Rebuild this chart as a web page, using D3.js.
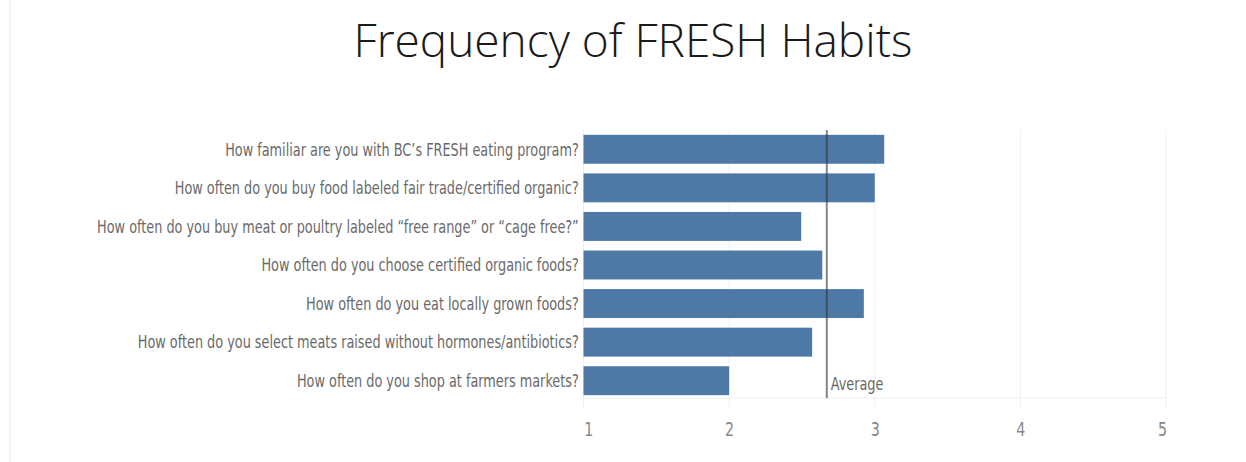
<!DOCTYPE html>
<html>
<head>
	<title> FRESH habits </title>
	<script src="https://d3js.org/d3.v7.min.js"></script>
	<style>
		body { margin: 0; background: white; }
	</style>
</head>
<body>
	<svg id="chart"></svg>
	<script type="text/javascript">

		// values
		const questions = [
			"How familiar are you with BC\u2019s FRESH eating program?",
			"How often do you buy food labeled fair trade/certified organic?",
			"How often do you buy meat or poultry labeled \u201cfree range\u201d or \u201ccage free?\u201d",
			"How often do you choose certified organic foods?",
			"How often do you eat locally grown foods?",
			"How often do you select meats raised without hormones/antibiotics?",
			"How often do you shop at farmers markets?"
		];
		const scores = [3.065, 3.0, 2.495, 2.64, 2.925, 2.57, 2.0];
		const tickValues = [1, 2, 3, 4, 5];

		const w = 1246, h = 462;
		const left_border = 583.5, right_border = 80;
		const top_border = 130, bottom_border = 62;
		const labelFont = "'Liberation Sans Narrow', 'DejaVu Sans Condensed', sans-serif";

		const svg = d3.select("#chart").attr("width", w).attr("height", h);

		const data = questions.map((q, i) => ({ q: q, v: scores[i] }));

		let x_scale = d3.scaleLinear().domain([1, 5]).range([left_border, w - right_border]);
		let y_scale = d3.scaleBand().domain(questions).range([top_border, h - bottom_border])
			.paddingInner(0.25).paddingOuter(0.125);

		// faint frame line on the left
		svg.append("line").attr("x1", 10).attr("x2", 10).attr("y1", 0).attr("y2", h)
			.style("stroke", "#ececec").style("stroke-width", 1);

		// title
		svg.append("text").attr("x", 633).attr("y", 57).attr("text-anchor", "middle")
			.style("font-family", "'Open Sans', 'Noto Sans', sans-serif").style("font-weight", 300)
			.style("font-size", "46px").style("fill", "#1a1a1a")
			.text("Frequency of FRESH Habits");

		// gridlines
		svg.append("g").selectAll("line").data(tickValues).join("line")
			.attr("x1", d => x_scale(d)).attr("x2", d => x_scale(d))
			.attr("y1", top_border).attr("y2", h - bottom_border + 9)
			.style("stroke", "#f0f0f0").style("stroke-width", 1);
		svg.append("line").attr("x1", x_scale(1)).attr("x2", x_scale(5))
			.attr("y1", h - bottom_border - 2).attr("y2", h - bottom_border - 2)
			.style("stroke", "#eeeeee").style("stroke-width", 1);

		// bars
		svg.append("g").selectAll("rect").data(data).join("rect")
			.attr("x", x_scale(1))
			.attr("y", d => y_scale(d.q))
			.attr("width", d => x_scale(d.v) - x_scale(1))
			.attr("height", y_scale.bandwidth())
			.style("fill", "#4e79a7");

		// category labels
		const yaxis = d3.axisLeft(y_scale).tickSize(0).tickPadding(6);
		const gy = svg.append("g").attr("transform", "translate(" + left_border + ",0)").call(yaxis);
		gy.select(".domain").remove();
		const ylabels = gy.selectAll("text").style("font-family", labelFont).style("font-size", "18px")
			.style("fill", "#6a6a6a").attr("dy", "0.35em");

		// the original font is much narrower, squeeze the labels to the same width
		let longest = d3.max(ylabels.nodes(), n => n.getComputedTextLength());
		const squeeze = 482 / longest;
		ylabels.attr("transform", "scale(" + squeeze + ",1)");

		// x axis
		const xaxis = d3.axisBottom(x_scale).tickValues(tickValues).tickSize(0).tickPadding(22)
			.tickFormat(d3.format("d"));
		const gx = svg.append("g").attr("transform", "translate(0," + (h - bottom_border) + ")").call(xaxis);
		gx.select(".domain").remove();
		gx.selectAll("text").style("font-family", labelFont).style("font-size", "20px").style("fill", "#888")
			.attr("transform", "scale(" + squeeze + ",1)");
		gx.selectAll(".tick text").filter(d => d === 1).attr("dx", 6);
		gx.selectAll(".tick text").filter(d => d === 5).attr("dx", -5);

		// average reference line
		const avg = d3.mean(scores);
		svg.append("line").attr("x1", x_scale(avg)).attr("x2", x_scale(avg))
			.attr("y1", top_border).attr("y2", h - bottom_border - 2)
			.style("stroke", "#333").style("stroke-opacity", 0.6).style("stroke-width", 2);
		const ax = x_scale(avg) + 4;
		svg.append("text").attr("x", ax).attr("y", y_scale(questions[6]) + y_scale.bandwidth() / 2)
			.attr("dy", "0.5em")
			.attr("transform", "translate(" + ax + ",0) scale(" + squeeze + ",1) translate(" + (-ax) + ",0)")
			.style("font-family", labelFont).style("font-size", "18px").style("fill", "#6a6a6a")
			.text("Average");

	</script>
</body>
</html>
